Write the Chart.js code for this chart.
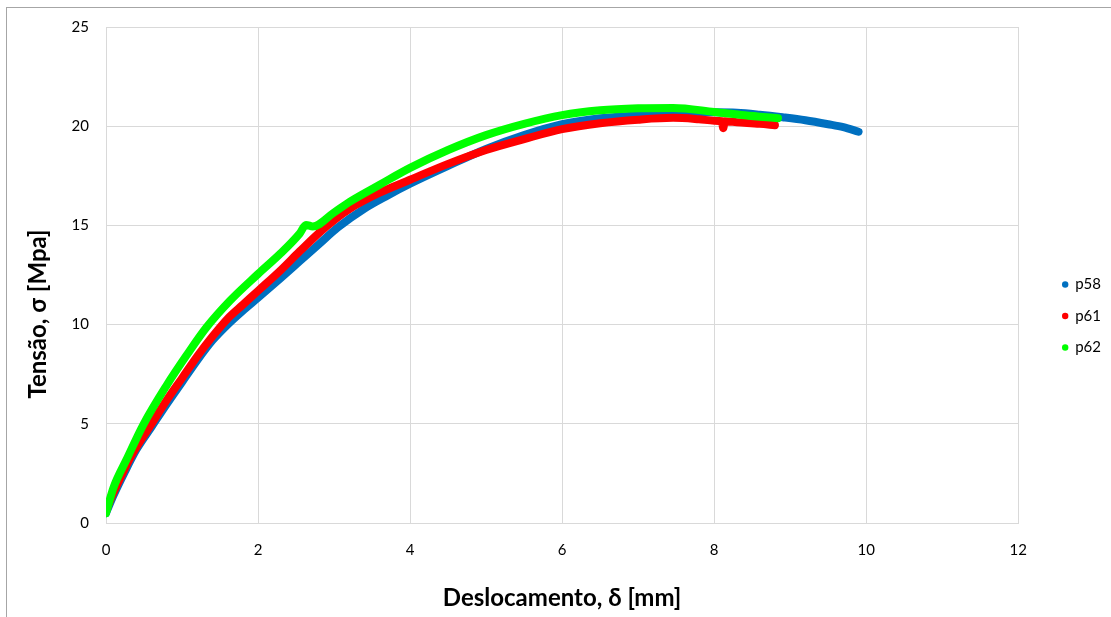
<!DOCTYPE html>
<html>
<head>
<meta charset="utf-8">
<script src="https://cdn.jsdelivr.net/npm/chart.js@4.4.1/dist/chart.umd.min.js"></script>
<style>
body { margin: 0; background: #fff; }
canvas { display: block; }
</style>
</head>
<body>
<canvas id="grafico" width="1111" height="617"></canvas>
<script>
// valores (deslocamento em mm, tensão em MPa)
const p58X = [0, 0.1, 0.25, 0.4, 0.6, 0.8, 1.0, 1.2, 1.4, 1.6, 1.8, 2.0, 2.3, 2.55, 2.8, 3.05, 3.4, 3.7, 4.0, 4.5, 5.0, 5.5, 6.0, 6.5, 7.0, 7.5, 8.0, 8.3, 8.6, 8.9, 9.2, 9.5, 9.7, 9.9];
const p58Y = [0.5, 1.4, 2.6, 3.7, 4.85, 6.0, 7.1, 8.2, 9.2, 10.0, 10.7, 11.35, 12.35, 13.2, 14.05, 14.9, 15.85, 16.5, 17.1, 18.0, 18.85, 19.55, 20.1, 20.4, 20.55, 20.63, 20.7, 20.68, 20.58, 20.45, 20.3, 20.1, 19.95, 19.72];

const p61X = [0, 0.05, 0.18, 0.35, 0.6, 0.8, 1.0, 1.2, 1.4, 1.6, 1.8, 2.0, 2.3, 2.55, 2.9, 3.21, 3.6, 4.0, 4.5, 5.0, 5.5, 6.0, 6.5, 7.0, 7.46, 7.8, 8.0, 8.1, 8.12, 8.14, 8.3, 8.6, 8.8];
const p61Y = [0.6, 1.1, 2.2, 3.5, 5.0, 6.2, 7.3, 8.4, 9.4, 10.3, 11.0, 11.7, 12.75, 13.7, 14.95, 15.85, 16.65, 17.3, 18.1, 18.8, 19.35, 19.85, 20.15, 20.33, 20.42, 20.35, 20.28, 20.25, 19.9, 20.25, 20.2, 20.12, 20.05];

const p62X = [0, 0.1, 0.27, 0.49, 0.8, 1.06, 1.32, 1.63, 2.0, 2.3, 2.55, 2.63, 2.72, 3.0, 3.21, 3.6, 4.0, 4.5, 5.0, 5.5, 6.0, 6.5, 7.0, 7.46, 8.0, 8.4, 8.84];
const p62Y = [0.5, 1.8, 3.2, 4.95, 6.95, 8.45, 9.85, 11.2, 12.55, 13.6, 14.6, 15.02, 14.95, 15.65, 16.2, 17.05, 17.9, 18.8, 19.55, 20.12, 20.56, 20.8, 20.9, 20.92, 20.72, 20.55, 20.4];

const nomes = ['p58', 'p61', 'p62'];
const cores = ['#0070C0', '#FF0000', '#00FF00'];
const xTicks = [0, 2, 4, 6, 8, 10, 12];
const yTicks = [0, 5, 10, 15, 20, 25];

const fonte = 'Lato, "Open Sans", sans-serif';

function pontos(xs, ys) {
    return xs.map((x, i) => ({ x: x, y: ys[i] }));
}

function serie(i, xs, ys) {
    return {
        label: nomes[i],
        data: pontos(xs, ys),
        showLine: true,
        borderColor: cores[i],
        backgroundColor: cores[i],
        borderWidth: 8,
        borderCapStyle: 'round',
        borderJoinStyle: 'round',
        cubicInterpolationMode: 'monotone',
        pointRadius: 0,
        order: 3 - i
    };
}

// moldura externa, título do eixo Y e posição da legenda
const extras = {
    id: 'extras',
    afterLayout(chart) {
        const leg = chart.legend;
        leg.left += 28;
        leg.right += 28;
        leg.top -= 6;
        leg.bottom -= 6;
    },
    beforeDraw(chart) {
        const ctx = chart.ctx;
        ctx.save();
        ctx.strokeStyle = '#a6a6a6';
        ctx.lineWidth = 1;
        ctx.strokeRect(6.5, 7.5, 1200, 700);
        ctx.restore();
    },
    afterDraw(chart) {
        const ctx = chart.ctx;
        ctx.save();
        ctx.translate(38, 314);
        ctx.rotate(-Math.PI / 2);
        ctx.font = 'bold 24px ' + fonte;
        ctx.fillStyle = '#000';
        ctx.textAlign = 'center';
        ctx.textBaseline = 'middle';
        ctx.fillText('Tensão, σ [Mpa]', 0, 0);
        ctx.restore();
    }
};

const config = {
    type: 'scatter',
    data: {
        datasets: [
            serie(0, p58X, p58Y),
            serie(1, p61X, p61Y),
            serie(2, p62X, p62Y)
        ]
    },
    options: {
        responsive: false,
        animation: false,
        devicePixelRatio: 1,
        layout: { padding: { top: 27, right: 28, left: 0, bottom: 0 } },
        plugins: {
            tooltip: { enabled: false },
            legend: {
                position: 'right',
                labels: {
                    usePointStyle: true,
                    pointStyle: 'circle',
                    boxWidth: 5,
                    boxHeight: 4.5,
                    padding: 16.5,
                    color: '#000',
                    font: { family: fonte, size: 15 },
                    generateLabels(chart) {
                        return chart.data.datasets.map((ds, i) => ({
                            text: ds.label,
                            fillStyle: ds.borderColor,
                            strokeStyle: ds.borderColor,
                            lineWidth: 0,
                            pointStyle: 'circle',
                            hidden: false,
                            datasetIndex: i
                        }));
                    }
                }
            }
        },
        scales: {
            x: {
                type: 'linear',
                min: 0,
                max: 12,
                afterBuildTicks: s => { s.ticks = xTicks.map(v => ({ value: v })); },
                afterFit: s => { s.height = 94; },
                grid: { color: '#d9d9d9', drawTicks: false },
                border: { color: '#d9d9d9' },
                ticks: { padding: 18, color: '#000', font: { family: fonte, size: 15 } },
                title: {
                    display: true,
                    text: 'Deslocamento, δ [mm]',
                    color: '#000',
                    font: { family: fonte, size: 24, weight: 'bold' },
                    padding: { top: 26 }
                }
            },
            y: {
                type: 'linear',
                min: 0,
                max: 25,
                afterBuildTicks: s => { s.ticks = yTicks.map(v => ({ value: v })); },
                afterFit: s => { s.width = 106; },
                grid: { color: '#d9d9d9', drawTicks: false },
                border: { color: '#d9d9d9' },
                ticks: { padding: 17, color: '#000', font: { family: fonte, size: 15 } }
            }
        }
    },
    plugins: [extras]
};

new Chart(document.getElementById('grafico').getContext('2d'), config);
</script>
</body>
</html>
